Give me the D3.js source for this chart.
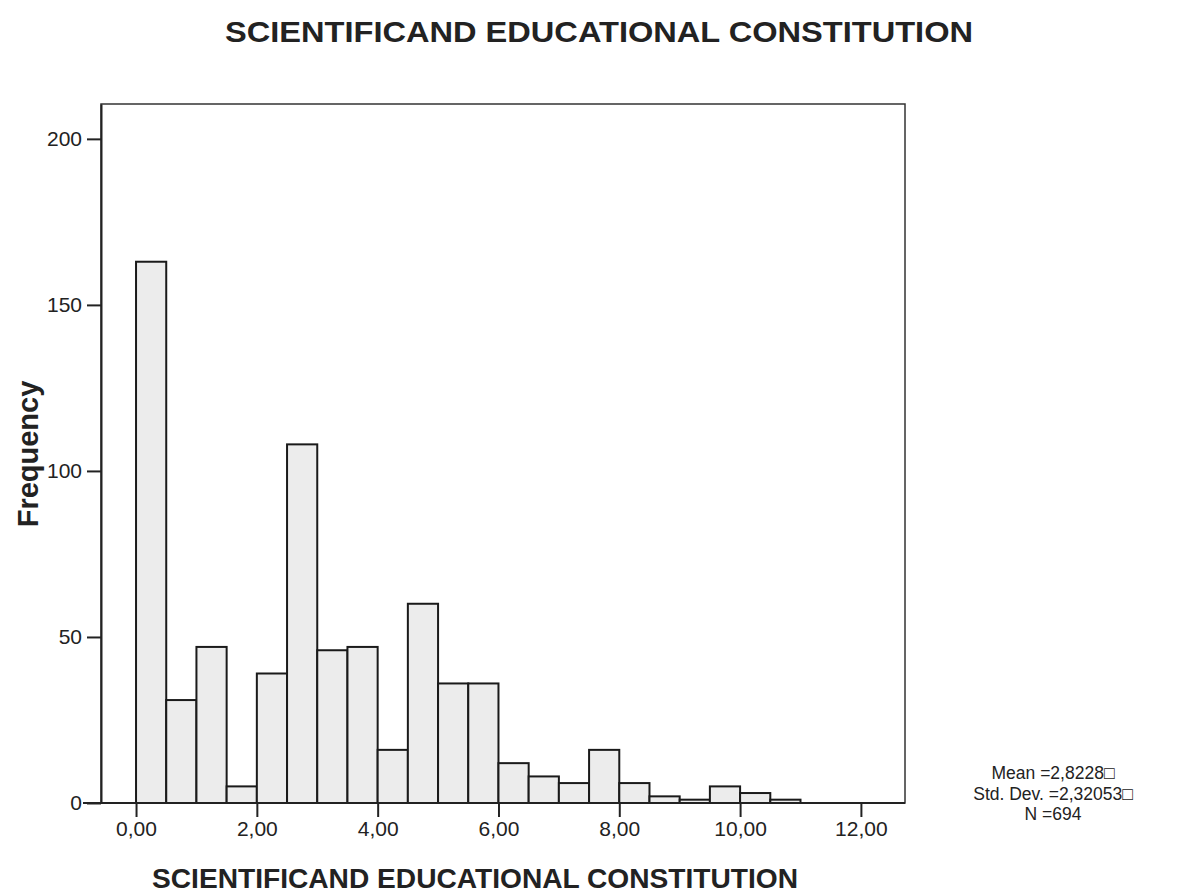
<!DOCTYPE html>
<html>
<head>
<meta charset="utf-8">
<script src="https://cdn.jsdelivr.net/npm/d3@7"></script>
<style>
  body { margin: 0; background: #fff; }
  svg { display: block; }
  text { font-family: "Liberation Sans", Arial, sans-serif; fill: #222; }
</style>
</head>
<body>
<svg id="chart" width="1192" height="895"></svg>
<script>
// Histogram bins (lower edge of each 0.5-wide bin) and frequencies
const binStarts = [0, 0.5, 1, 1.5, 2, 2.5, 3, 3.5, 4, 4.5, 5, 5.5, 6, 6.5, 7, 7.5, 8, 8.5, 9, 9.5, 10, 10.5];
const frequencies = [163, 31, 47, 5, 39, 108, 46, 47, 16, 60, 36, 36, 12, 8, 6, 16, 6, 2, 1, 5, 3, 1];
const binWidth = 0.5;
const xTicks = [0, 2, 4, 6, 8, 10, 12];
const xTickLabels = ["0,00", "2,00", "4,00", "6,00", "8,00", "10,00", "12,00"];
const yTicks = [0, 50, 100, 150, 200];
const titleText = "SCIENTIFICAND EDUCATIONAL CONSTITUTION";
const xTitleText = "SCIENTIFICAND EDUCATIONAL CONSTITUTION";
const yTitleText = "Frequency";
const statsLines = ["Mean =2,8228\u25A1", "Std. Dev. =2,32053\u25A1", "N =694"];

const svg = d3.select("#chart");
const frame = { left: 101, right: 905, top: 104, bottom: 803 };

const x = d3.scaleLinear().domain([-0.58, 12.73]).range([frame.left, frame.right]);
const y = d3.scaleLinear().domain([0, 210.5]).range([frame.bottom, frame.top]);

// Frame
svg.append("rect")
  .attr("x", frame.left).attr("y", frame.top)
  .attr("width", frame.right - frame.left).attr("height", frame.bottom - frame.top)
  .attr("fill", "#fff").attr("stroke", "#333").attr("stroke-width", 1.5);

// Bars
const data = binStarts.map((b, i) => ({ x0: b, x1: b + binWidth, n: frequencies[i] }));
svg.append("g").selectAll("rect")
  .data(data).join("rect")
  .attr("x", d => x(d.x0))
  .attr("y", d => y(d.n))
  .attr("width", d => x(d.x1) - x(d.x0))
  .attr("height", d => y(0) - y(d.n))
  .attr("fill", "#ececec")
  .attr("stroke", "#1a1a1a")
  .attr("stroke-width", 2);

// Y axis
const yAxis = d3.axisLeft(y).tickValues(yTicks).tickSize(14).tickSizeOuter(0).tickPadding(5);
const gy = svg.append("g").attr("transform", `translate(${frame.left},0)`).call(yAxis);
gy.select(".domain").attr("stroke", "#222").attr("stroke-width", 2);
gy.selectAll(".tick line").attr("stroke", "#222").attr("stroke-width", 2);
gy.selectAll(".tick text").attr("font-size", 21).attr("font-family", "Liberation Sans, Arial, sans-serif").attr("fill", "#222");

// X axis
const xAxis = d3.axisBottom(x).tickValues(xTicks).tickFormat((d, i) => xTickLabels[i]).tickSize(14).tickSizeOuter(0).tickPadding(4);
const gx = svg.append("g").attr("transform", `translate(0,${frame.bottom})`).call(xAxis);
gx.select(".domain").remove();
gx.append("line").attr("x1", frame.left - 18).attr("x2", frame.right).attr("y1", 0).attr("y2", 0)
  .attr("stroke", "#222").attr("stroke-width", 2);
gx.selectAll(".tick line").attr("stroke", "#222").attr("stroke-width", 2);
gx.selectAll(".tick text").attr("font-size", 21).attr("font-family", "Liberation Sans, Arial, sans-serif").attr("fill", "#222");

// Title
svg.append("text").attr("x", 599).attr("y", 42).attr("text-anchor", "middle")
  .attr("font-size", 30).attr("font-weight", "bold")
  .attr("textLength", 748).attr("lengthAdjust", "spacingAndGlyphs").text(titleText);

// X title
svg.append("text").attr("x", 475).attr("y", 888).attr("text-anchor", "middle")
  .attr("font-size", 28).attr("font-weight", "bold")
  .attr("textLength", 646).attr("lengthAdjust", "spacingAndGlyphs").text(xTitleText);

// Y title
svg.append("text").attr("transform", "translate(38,454) rotate(-90)").attr("text-anchor", "middle")
  .attr("font-size", 29).attr("font-weight", "bold").text(yTitleText);

// Stats
svg.append("g").selectAll("text").data(statsLines).join("text")
  .attr("x", 1053).attr("y", (d, i) => 779 + i * 20.5)
  .attr("text-anchor", "middle").attr("font-size", 17.5)
  .text(d => d);
</script>
</body>
</html>
